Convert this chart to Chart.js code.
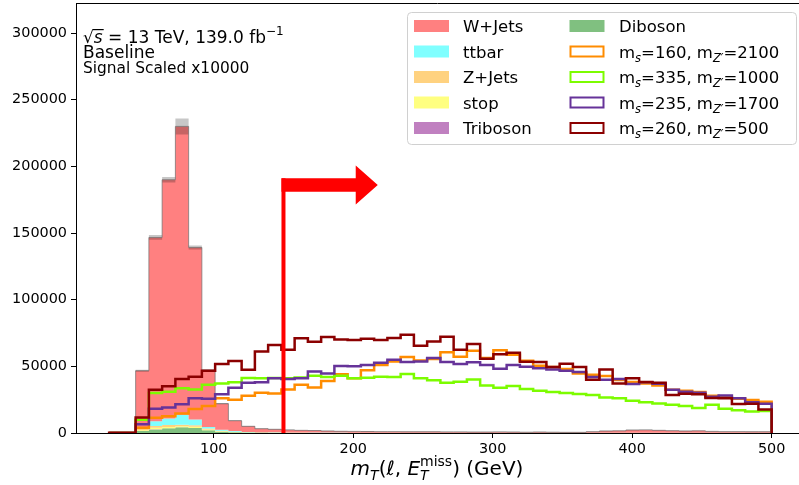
<!DOCTYPE html>
<html>
<head>
<meta charset="utf-8">
<script src="https://cdn.jsdelivr.net/npm/chart.js@4.4.0/dist/chart.umd.min.js"></script>
<style>
  html, body { margin: 0; padding: 0; background: #fff; }
  canvas { display: block; }
</style>
</head>
<body>
<canvas id="chart" width="799" height="485"></canvas>
<script>
// 50 bins of m_T from 25 to 500 GeV
var binLow = 25, binHigh = 500, nBins = 50;
var xTicks = [100, 200, 300, 400, 500];
var yTicks = [0, 50000, 100000, 150000, 200000, 250000, 300000];

// backgrounds (events per bin)
var wjets = [0, 0, 42200, 137900, 179100, 216200, 129000, 42500, 19600, 7800,
  4200, 2600, 2300, 1900, 1600, 1500, 1200, 1000, 950, 900,
  800, 800, 700, 700, 700, 600, 600, 500, 500, 600,
  500, 400, 500, 400, 300, 300, 700, 1300, 1400, 2000,
  2100, 1800, 1500, 1300, 1400, 1000, 800, 800, 700, 700];
var ttbar = [0, 0, 1500, 3500, 4800, 7500, 4300, 1200, 800, 400,
  200, 150, 120, 100, 100, 80, 80, 70, 60, 50,
  50, 50, 50, 50, 50, 50, 50, 50, 50, 50,
  50, 50, 50, 50, 50, 50, 50, 50, 50, 50,
  50, 50, 50, 50, 50, 50, 50, 50, 50, 50];
var zjets = [0, 0, 1000, 1300, 1500, 1200, 1200, 700, 300, 200,
  100, 80, 60, 50, 40, 40, 30, 30, 30, 20,
  20, 20, 20, 20, 20, 20, 20, 20, 20, 20,
  20, 20, 20, 20, 20, 20, 20, 20, 20, 20,
  20, 20, 20, 20, 20, 20, 20, 20, 20, 20];
var stop = [0, 0, 500, 1200, 1000, 700, 900, 600, 300, 200,
  100, 80, 60, 50, 50, 40, 40, 40, 30, 30,
  30, 30, 30, 30, 30, 30, 30, 30, 30, 30,
  30, 30, 30, 30, 30, 30, 30, 30, 30, 30,
  30, 30, 30, 30, 30, 30, 30, 30, 30, 30];
var triboson = [0, 0, 30, 60, 60, 60, 60, 40, 30, 20,
  20, 10, 10, 10, 10, 10, 10, 10, 10, 10,
  10, 10, 10, 10, 10, 10, 10, 10, 10, 10,
  10, 10, 10, 10, 10, 10, 10, 10, 10, 10,
  10, 10, 10, 10, 10, 10, 10, 10, 10, 10];
var diboson = [0, 0, 1500, 2700, 3500, 4300, 3700, 2000, 1000, 600,
  400, 300, 250, 200, 200, 150, 150, 150, 120, 100,
  100, 100, 100, 100, 100, 100, 100, 100, 100, 100,
  100, 100, 100, 100, 100, 100, 100, 100, 100, 100,
  100, 100, 100, 100, 100, 100, 100, 100, 100, 100];
var bkgError = [0, 0, 800, 1800, 2000, 6000, 1500, 800, 500, 300,
  200, 150, 150, 150, 150, 150, 150, 150, 150, 150,
  150, 150, 150, 150, 150, 150, 150, 150, 150, 150,
  150, 150, 150, 150, 150, 150, 150, 150, 150, 150,
  150, 150, 150, 150, 150, 150, 150, 150, 150, 150];

// signals, scaled x10000
var sig160_2100 = [0, 0, 4000, 11500, 12500, 14700, 18000, 20200, 26000, 25000,
  28000, 30200, 29700, 32700, 36200, 34200, 39000, 44000, 41000, 47000,
  51000, 53700, 57000, 54300, 55500, 60500, 57200, 61700, 56200, 62000,
  58700, 54200, 50500, 49500, 48000, 44700, 43700, 42700, 39700, 38200,
  37200, 35700, 32500, 31700, 30700, 28000, 27000, 25700, 24700, 23500];
var sig335_1000 = [0, 0, 10000, 30000, 31000, 33500, 32700, 36200, 37200, 38000,
  41200, 41000, 41200, 41000, 41700, 43000, 42000, 43000, 41000, 41500,
  42200, 42000, 44200, 41000, 39500, 37700, 38500, 40200, 35700, 34000,
  35200, 33000, 31700, 30700, 30000, 29200, 28500, 26700, 26000, 24200,
  23000, 22200, 21200, 20200, 18700, 21200, 18200, 17000, 16200, 16500];
var sig235_1700 = [0, 0, 6500, 18200, 19200, 21500, 26000, 25700, 29000, 34000,
  37700, 38000, 41000, 40500, 41000, 46200, 44600, 50200, 50000, 51000,
  52700, 55000, 53200, 53700, 56200, 53200, 51700, 53000, 51000, 48200,
  51000, 49700, 48500, 47700, 46700, 45700, 42000, 40000, 40500, 36700,
  38000, 37000, 32500, 31000, 30200, 27200, 28200, 26000, 23000, 22000];
var sig260_500 = [200, 200, 11700, 32500, 35000, 40500, 42200, 46700, 51700, 54000,
  47500, 61200, 66000, 62500, 71000, 68500, 72000, 70200, 69700, 70700,
  69700, 71200, 73700, 65500, 68700, 72200, 62500, 66700, 55700, 59000,
  60200, 53500, 53200, 49500, 52000, 49500, 40000, 47700, 37200, 41000,
  38200, 37700, 28500, 29500, 29000, 26200, 26000, 21700, 22000, 17700];

var cutValue = 150;        // selection line
var cutArrowY = 186000;    // height of the arrow
var cutArrowTip = 217.6;   // arrow tip position in GeV
var cutArrowHeadBase = 201.8;

var edges = [];
for (var i = 0; i <= nBins; i++) edges.push(binLow + i * (binHigh - binLow) / nBins);

function stepPoints(vals) {
  var pts = [{x: edges[0], y: 0}];
  for (var i = 0; i < nBins; i++) pts.push({x: edges[i], y: vals[i]});
  pts.push({x: edges[nBins], y: vals[nBins - 1]});
  pts.push({x: edges[nBins], y: 0});
  return pts;
}

// stack bottom -> top
var stackDefs = [
  {label: 'Diboson', vals: diboson, color: '#80c080'},
  {label: 'Triboson', vals: triboson, color: '#c080c0'},
  {label: 'stop', vals: stop, color: '#ffff80'},
  {label: 'Z+Jets', vals: zjets, color: '#ffd280'},
  {label: 'ttbar', vals: ttbar, color: '#80ffff'},
  {label: 'W+Jets', vals: wjets, color: '#ff8080'}
];
var running = new Array(nBins).fill(0);
var datasets = [];
stackDefs.forEach(function (d, k) {
  running = running.map(function (v, i) { return v + d.vals[i]; });
  datasets.push({
    label: d.label, data: stepPoints(running.slice()),
    borderWidth: 0, borderColor: 'rgba(0,0,0,0)', backgroundColor: d.color,
    fill: k === 0 ? 'origin' : '-1', stepped: 'before', pointRadius: 0
  });
});
var total = running.slice();
datasets.push({
  label: 'errLow', data: stepPoints(total.map(function (v, i) { return Math.max(0, v - bkgError[i]); })),
  borderWidth: 0, borderColor: 'rgba(0,0,0,0)', fill: false, stepped: 'before', pointRadius: 0
});
datasets.push({
  label: 'errHigh', data: stepPoints(total.map(function (v, i) { return v + bkgError[i]; })),
  borderWidth: 0, borderColor: 'rgba(0,0,0,0)', backgroundColor: 'rgba(0,0,0,0.22)',
  fill: '-1', stepped: 'before', pointRadius: 0
});
datasets.push({
  label: 'total', data: stepPoints(total),
  borderWidth: 1, borderColor: 'rgba(110,110,110,0.7)', fill: false, stepped: 'before', pointRadius: 0
});

var signals = [
  {label: ['160', '2100'], vals: sig160_2100, color: '#ff8c00'},
  {label: ['335', '1000'], vals: sig335_1000, color: '#7cfc00'},
  {label: ['235', '1700'], vals: sig235_1700, color: '#663399'},
  {label: ['260', '500'], vals: sig260_500, color: '#8b0000'}
];
signals.forEach(function (s) {
  datasets.push({
    label: 'sig' + s.label.join('_'), data: stepPoints(s.vals),
    borderWidth: 2.5, borderColor: s.color, fill: false, stepped: 'before', pointRadius: 0
  });
});
// draw in array order (last on top)
datasets.forEach(function (d, k) { d.order = datasets.length - k; });

var FAM = '"DejaVu Sans", sans-serif';

function drawParts(ctx, x, y, parts, measureOnly) {
  var cx = x;
  parts.forEach(function (p) {
    ctx.font = p.f;
    var w = ctx.measureText(p.t).width;
    if (!measureOnly) {
      ctx.fillText(p.t, cx, y + (p.dy || 0));
      if (p.over) {
        ctx.fillRect(cx - 1, y - 14, w + 2, 1.2);
      }
    }
    if (!p.stay) cx += w;
  });
  return cx - x;
}

var decor = {
  id: 'decor',
  afterDatasetsDraw: function (chart) {
    var ctx = chart.ctx, a = chart.chartArea;
    var xs = chart.scales.x, ys = chart.scales.y;
    ctx.save();
    // top spine
    ctx.strokeStyle = '#000'; ctx.lineWidth = 1;
    ctx.beginPath(); ctx.moveTo(a.left, a.top + 0.5); ctx.lineTo(a.right, a.top + 0.5); ctx.stroke();

    // cut line + arrow
    var cx = xs.getPixelForValue(cutValue);
    var ay = ys.getPixelForValue(cutArrowY);
    var y0 = ys.getPixelForValue(0);
    ctx.fillStyle = '#ff0000';
    ctx.fillRect(cx - 2, ay - 6.7, 4, y0 - ay + 6.7);
    var hb = xs.getPixelForValue(cutArrowHeadBase), tip = xs.getPixelForValue(cutArrowTip);
    ctx.beginPath();
    ctx.moveTo(cx - 2, ay - 6.7);
    ctx.lineTo(hb, ay - 6.7);
    ctx.lineTo(hb, ay - 19.5);
    ctx.lineTo(tip, ay);
    ctx.lineTo(hb, ay + 19.5);
    ctx.lineTo(hb, ay + 6.7);
    ctx.lineTo(cx - 2, ay + 6.7);
    ctx.closePath();
    ctx.fill();

    // top-left labels
    ctx.fillStyle = '#000';
    ctx.textBaseline = 'alphabetic'; ctx.textAlign = 'left';
    var f17 = '17px ' + FAM, i17 = 'italic 17px ' + FAM;
    drawParts(ctx, 83, 43, [
      {t: '\u221A', f: f17},
      {t: 's', f: i17, over: true},
      {t: ' = 13 TeV, 139.0 fb', f: f17},
      {t: '\u22121', f: '12px ' + FAM, dy: -8}
    ]);
    ctx.font = f17; ctx.fillText('Baseline', 83, 58);
    ctx.font = '15.4px ' + FAM; ctx.fillText('Signal Scaled x10000', 83, 73);

    // x axis title
    var f20 = '20px ' + FAM, i20 = 'italic 20px ' + FAM, i14 = 'italic 14px ' + FAM, r14 = '14px ' + FAM;
    var title = [
      {t: 'm', f: i20}, {t: 'T', f: i14, dy: 5},
      {t: '(', f: f20}, {t: '\u2113', f: i20}, {t: ', ', f: f20},
      {t: 'E', f: i20}, {t: 'T', f: i14, dy: 5, stay: true}, {t: 'miss', f: r14, dy: -9},
      {t: ') (GeV)', f: f20}
    ];
    var tw = drawParts(ctx, 0, 0, title, true);
    drawParts(ctx, 437 - tw / 2, 475, title);

    // legend
    var lx = 407, ly = 12, lw = 389, lh = 132;
    ctx.fillStyle = 'rgba(255,255,255,0.8)';
    ctx.strokeStyle = '#d0d0d0'; ctx.lineWidth = 1;
    ctx.beginPath();
    if (ctx.roundRect) ctx.roundRect(lx + 0.5, ly + 0.5, lw, lh, 4); else ctx.rect(lx + 0.5, ly + 0.5, lw, lh);
    ctx.fill(); ctx.stroke();
    var rowY = function (r) { return 26 + r * 25.5; };
    var f16 = '16.5px ' + FAM, i11 = 'italic 11.5px ' + FAM;
    var col1 = stackDefs.slice(1).reverse(); // W+Jets, ttbar, Z+Jets, stop, Triboson
    col1.forEach(function (d, r) {
      ctx.fillStyle = d.color;
      ctx.fillRect(414, rowY(r) - 6, 35, 12);
      ctx.fillStyle = '#000'; ctx.font = f16;
      ctx.fillText(d.label, 463, rowY(r) + 6);
    });
    ctx.fillStyle = stackDefs[0].color;
    ctx.fillRect(569.5, rowY(0) - 6, 35, 12);
    ctx.fillStyle = '#000'; ctx.font = f16;
    ctx.fillText(stackDefs[0].label, 619, rowY(0) + 6);
    signals.forEach(function (s, k) {
      var y = rowY(k + 1);
      ctx.strokeStyle = s.color; ctx.lineWidth = 2;
      ctx.fillStyle = '#fff';
      ctx.fillRect(570.5, y - 5, 33, 10);
      ctx.strokeRect(570.5, y - 5, 33, 10);
      ctx.fillStyle = '#000';
      drawParts(ctx, 619, y + 6, [
        {t: 'm', f: f16}, {t: 's', f: i11, dy: 4},
        {t: '=' + s.label[0] + ', m', f: f16}, {t: 'Z\u2032', f: i11, dy: 4},
        {t: '=' + s.label[1], f: f16}
      ]);
    });
    ctx.restore();
  }
};

function noPad(s) {
  s.paddingTop = 0; s.paddingBottom = 0; s.paddingLeft = 0; s.paddingRight = 0;
}

var tickFont = {family: FAM, size: 14.4};
var chart = new Chart(document.getElementById('chart').getContext('2d'), {
  type: 'line',
  data: {datasets: datasets},
  options: {
    responsive: false,
    animation: false,
    events: [],
    layout: {padding: {top: 3, right: 0, left: 0, bottom: 0}},
    plugins: {legend: {display: false}, tooltip: {enabled: false}},
    scales: {
      x: {
        type: 'linear', min: 1.25, max: 519.6,
        afterFit: function (s) { s.height = 52; noPad(s); },
        afterBuildTicks: function (s) { s.ticks = xTicks.map(function (v) { return {value: v}; }); },
        grid: {display: true, drawOnChartArea: false, drawTicks: true, tickLength: 5, color: '#000'},
        border: {display: true, color: '#000', width: 1},
        ticks: {font: tickFont, color: '#000', padding: 3, maxRotation: 0, autoSkip: false,
          callback: function (v) { return String(v); }}
      },
      y: {
        type: 'linear', min: 0, max: 322500,
        afterFit: function (s) { s.width = 76; noPad(s); },
        afterBuildTicks: function (s) { s.ticks = yTicks.map(function (v) { return {value: v}; }); },
        grid: {display: true, drawOnChartArea: false, drawTicks: true, tickLength: 5, color: '#000'},
        border: {display: true, color: '#000', width: 1},
        ticks: {font: tickFont, color: '#000', padding: 4,
          callback: function (v) { return String(v); }}
      }
    }
  },
  plugins: [decor]
});
</script>
</body>
</html>
